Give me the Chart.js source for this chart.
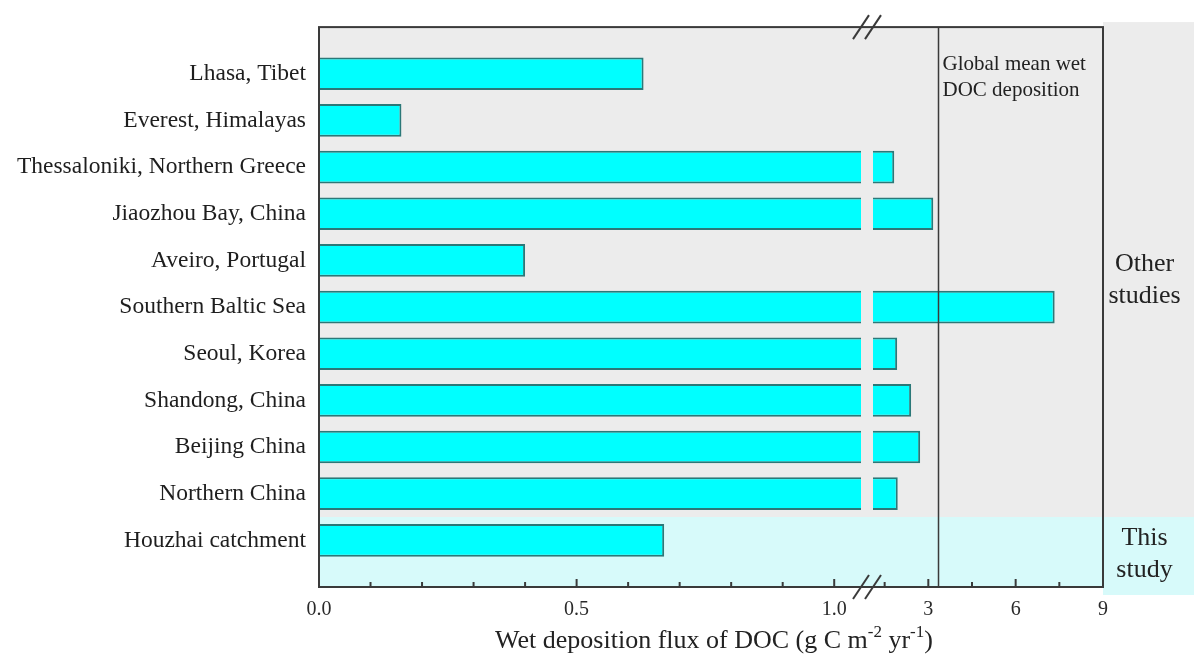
<!DOCTYPE html>
<html><head><meta charset="utf-8">
<script src="https://cdn.jsdelivr.net/npm/chart.js@4.4.0/dist/chart.umd.min.js"></script>
<style>html,body{margin:0;padding:0;background:#fff;}canvas{display:block;}</style>
</head><body>
<canvas id="c" width="1194" height="656"></canvas>
<script>
// ---- data ----
const categories = ['Lhasa, Tibet','Everest, Himalayas','Thessaloniki, Northern Greece','Jiaozhou Bay, China','Aveiro, Portugal','Southern Baltic Sea','Seoul, Korea','Shandong, China','Beijing China','Northern China','Houzhai catchment'];
const fluxValues = [0.63, 0.16, 1.83, 3.17, 0.40, 7.34, 1.93, 2.41, 2.72, 1.95, 0.67];
const leftRange = [0, 1.052];
const rightRange = [1.1, 9];
const leftTicks = [0, 0.5, 1.0];
const leftMinorTicks = [0.1, 0.2, 0.3, 0.4, 0.6, 0.7, 0.8, 0.9];
const rightTicks = [3, 6, 9];
const rightMinorTicks = [1.5, 4.5, 7.5];
const globalMeanWetDOC = 3.35;
const globalLabel = ['Global mean wet', 'DOC deposition'];
const otherLabel = ['Other', 'studies'];
const thisLabel = ['This', 'study'];
const xTitleParts = [['Wet deposition flux of DOC (g C m', false], ['-2', true], [' yr', false], ['-1', true], [')', false]];

Chart.defaults.font.family = "'Liberation Serif', 'Times New Roman', serif";
Chart.defaults.color = '#222';

const leftData = categories.map((c, i) => ({x: Math.min(fluxValues[i], leftRange[1]), y: i + 1}));
const rightData = categories.map((c, i) => ({x: fluxValues[i] > leftRange[1] ? fluxValues[i] : null, y: i + 1}));

const BW = 2;
const decor = {
  id: 'decor',
  beforeDraw(chart) {
    const {ctx, chartArea: a, scales: {y}} = chart;
    const split = y.getPixelForValue(10.5);
    ctx.save();
    ctx.fillStyle = '#ececec';
    ctx.fillRect(a.left, a.top, a.width, split - a.top);
    ctx.fillRect(a.right, a.top - 5, chart.width - a.right, split - a.top + 5);
    ctx.fillStyle = '#d7fafa';
    ctx.fillRect(a.left, split, a.width, a.bottom - split);
    ctx.fillRect(a.right, split, chart.width - a.right, a.bottom + 8 - split);
    ctx.restore();
  },
  afterDatasetsDraw(chart) {
    const {ctx, chartArea: a, scales: {x, x2, y}} = chart;
    ctx.save();
    ctx.strokeStyle = '#3a3a3a';
    // global mean line
    const gx = x2.getPixelForValue(globalMeanWetDOC);
    ctx.lineWidth = 1.5;
    ctx.beginPath(); ctx.moveTo(gx, a.top); ctx.lineTo(gx, a.bottom); ctx.stroke();
    // frame
    ctx.lineWidth = 2;
    ctx.strokeRect(a.left, a.top, a.width, a.height);
    // inward ticks
    const tick = (px, len) => { ctx.beginPath(); ctx.moveTo(px, a.bottom); ctx.lineTo(px, a.bottom - len); ctx.stroke(); };
    leftTicks.forEach(v => tick(x.getPixelForValue(v), 8));
    leftMinorTicks.forEach(v => tick(x.getPixelForValue(v), 5));
    rightTicks.forEach(v => tick(x2.getPixelForValue(v), 8));
    rightMinorTicks.forEach(v => tick(x2.getPixelForValue(v), 5));
    // break marks
    const bx = (x.right + x2.left) / 2;
    [a.top, a.bottom].forEach(yc => {
      [-6, 6].forEach(off => {
        ctx.beginPath();
        ctx.moveTo(bx + off - 8, yc + 12);
        ctx.lineTo(bx + off + 8, yc - 12);
        ctx.stroke();
      });
    });
    // texts
    ctx.fillStyle = '#222';
    ctx.textBaseline = 'alphabetic';
    ctx.textAlign = 'left';
    ctx.font = "21px 'Liberation Serif', serif";
    ctx.fillText(globalLabel[0], gx + 4, a.top + 43);
    ctx.fillText(globalLabel[1], gx + 4, a.top + 69);
    ctx.textAlign = 'center';
    ctx.font = "26px 'Liberation Serif', serif";
    const rx = a.right + (chart.width - a.right) / 2 - 4;
    const ym = y.getPixelForValue(5.5);
    ctx.fillText(otherLabel[0], rx, ym - 13);
    ctx.fillText(otherLabel[1], rx, ym + 19);
    const yh = y.getPixelForValue(11);
    ctx.fillText(thisLabel[0], rx, yh + 5);
    ctx.fillText(thisLabel[1], rx, yh + 37);
    // x title with superscripts
    const big = "26px 'Liberation Serif', serif", small = "17px 'Liberation Serif', serif";
    let total = 0;
    xTitleParts.forEach(([t, sup]) => { ctx.font = sup ? small : big; total += ctx.measureText(t).width; });
    let cx = (a.left + a.right) / 2 + 3 - total / 2;
    const by = 648;
    ctx.textAlign = 'left';
    xTitleParts.forEach(([t, sup]) => {
      ctx.font = sup ? small : big;
      ctx.fillText(t, cx, sup ? by - 11 : by);
      cx += ctx.measureText(t).width;
    });
    ctx.restore();
  }
};

const xCommon = (extra) => Object.assign({
  type: 'linear', axis: 'x', position: 'bottom', stack: 'xb', offset: false,
  grid: {display: false, drawTicks: false},
  border: {display: false},
  afterFit: s => { s.height = 69; }
}, extra);

new Chart(document.getElementById('c'), {
  type: 'bar',
  data: {
    datasets: [
      {
        data: leftData, xAxisID: 'x', yAxisID: 'y',
        backgroundColor: '#00ffff', borderColor: '#2b7878',
        borderWidth: ctx => fluxValues[ctx.dataIndex] > leftRange[1]
          ? {top: BW, bottom: BW, left: 0, right: 0}
          : {top: BW, bottom: BW, left: 0, right: BW},
        borderSkipped: false
      },
      {
        data: rightData, xAxisID: 'x2', yAxisID: 'y', base: rightRange[0],
        backgroundColor: '#00ffff', borderColor: '#2b7878',
        borderWidth: {top: BW, bottom: BW, left: 0, right: BW},
        borderSkipped: false
      }
    ]
  },
  options: {
    indexAxis: 'y',
    responsive: false,
    animation: false,
    layout: {padding: {top: 25, right: 91, left: 0, bottom: 0}},
    datasets: {bar: {grouped: false, categoryPercentage: 1, barPercentage: 0.7}},
    plugins: {legend: {display: false}, tooltip: {enabled: false}},
    scales: {
      x: xCommon({
        stackWeight: 542, min: leftRange[0], max: leftRange[1],
        afterBuildTicks: s => { s.ticks = leftTicks.map(v => ({value: v})); },
        ticks: {padding: 11, maxRotation: 0, autoSkip: false, color: '#2a2a2a', font: {size: 20}, callback: v => v.toFixed(1)}
      }),
      xgap: xCommon({
        stackWeight: 12, min: 0, max: 1,
        ticks: {display: false}
      }),
      x2: xCommon({
        stackWeight: 230, min: rightRange[0], max: rightRange[1],
        afterBuildTicks: s => { s.ticks = rightTicks.map(v => ({value: v})); },
        ticks: {padding: 11, maxRotation: 0, autoSkip: false, color: '#2a2a2a', font: {size: 20}, callback: v => String(v)}
      }),
      y: {
        type: 'linear', position: 'left', reverse: true, min: 0, max: 12, offset: false,
        afterBuildTicks: s => { s.ticks = categories.map((c, i) => ({value: i + 1})); },
        afterFit: s => { s.width = 319; },
        grid: {display: false, drawTicks: false, offset: false},
        border: {display: false},
        ticks: {autoSkip: false, padding: 13, color: '#1e1e1e', font: {size: 23.5}, callback: v => categories[v - 1]}
      }
    }
  },
  plugins: [decor]
});
</script>
</body></html>
